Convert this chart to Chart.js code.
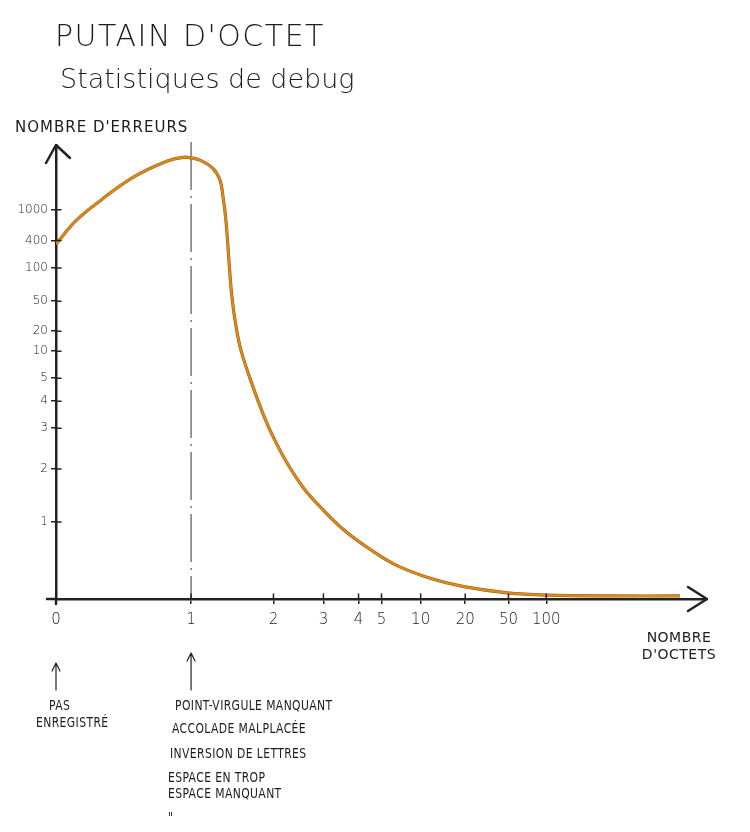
<!DOCTYPE html>
<html>
<head>
<meta charset="utf-8">
<script src="https://cdn.jsdelivr.net/npm/chart.js@4.4.1/dist/chart.umd.min.js"></script>
<style>
  body { margin: 0; background: #fff; }
  #wrap { position: relative; width: 750px; height: 832px; overflow: hidden; }
  canvas { position: absolute; left: 0; top: 0; }
  .t { position: absolute; white-space: nowrap; color: #1c1c1c; font-family: "DejaVu Sans", sans-serif; line-height: 1; }
  .s { font-size: 12px; font-stretch: condensed; letter-spacing: 0.4px; transform: scale(1, 1.15); transform-origin: left bottom; }
</style>
</head>
<body>
<div id="wrap">
  <canvas id="chart" width="750" height="832"></canvas>

  <div class="t" style="left:55px;top:21px;font-size:30px;font-weight:200;letter-spacing:1.5px">PUTAIN D'OCTET</div>
  <div class="t" style="left:60px;top:65px;font-size:27px;font-weight:200">Statistiques de debug</div>
  <div class="t" style="left:15px;top:120px;font-size:15px;letter-spacing:1px">NOMBRE D'ERREURS</div>
  <div class="t" style="left:626px;top:629px;width:106px;text-align:center;font-size:14px;line-height:17px;letter-spacing:0.5px">NOMBRE<br>D'OCTETS</div>

  <div class="t s" style="left:49px;top:700px">PAS</div>
  <div class="t s" style="left:36px;top:717px">ENREGISTRÉ</div>

  <div class="t s" style="left:175px;top:700px">POINT-VIRGULE MANQUANT</div>
  <div class="t s" style="left:172px;top:723px">ACCOLADE MALPLACÉE</div>
  <div class="t s" style="left:170px;top:748px">INVERSION DE LETTRES</div>
  <div class="t s" style="left:168px;top:772px">ESPACE EN TROP</div>
  <div class="t s" style="left:168px;top:788px">ESPACE MANQUANT</div>
  <div class="t s" style="left:168px;top:812px">"</div>
</div>

<script>
// axis graduations (hand-drawn, so not evenly spaced)
const xTickLabels = ['0', '1', '2', '3', '4', '5', '10', '20', '50', '100'];
const xTickAt = [0, 1, 1.61, 1.98, 2.24, 2.41, 2.7, 3.03, 3.35, 3.63];
const yTickLabels = ['1', '2', '3', '4', '5', '10', '20', '50', '100', '400', '1000'];
const yTickAt = [1, 1.69, 2.22, 2.57, 2.87, 3.22, 3.48, 3.87, 4.3, 4.66, 5.06];

// the curve, in the same graduations
const curveX = [0, 0.15, 0.33, 0.57, 0.82, 0.94, 1.01, 1.07, 1.16, 1.215, 1.237, 1.256, 1.27, 1.284, 1.3, 1.326, 1.37, 1.46, 1.53, 1.61, 1.71, 1.83, 1.96, 2.13, 2.33, 2.53, 2.77, 3.02, 3.34, 3.64, 4.1, 4.62];
const curveY = [4.61, 4.92, 5.18, 5.48, 5.69, 5.74, 5.73, 5.7, 5.6, 5.44, 5.22, 4.96, 4.66, 4.31, 3.97, 3.62, 3.23, 2.75, 2.42, 2.1, 1.77, 1.45, 1.19, 0.9, 0.64, 0.43, 0.27, 0.16, 0.08, 0.05, 0.04, 0.04];

const points = curveX.map((x, i) => ({ x: x, y: curveY[i] }));
const ink = '#222';

const sketch = {
  id: 'sketch',
  beforeDatasetsDraw(chart) {
    const { ctx, chartArea: a, scales: { x } } = chart;
    const px = x.getPixelForValue(1);
    ctx.save();
    ctx.strokeStyle = '#444';
    ctx.lineWidth = 1.1;
    ctx.setLineDash([48, 6, 2, 6]);
    ctx.beginPath();
    ctx.moveTo(px, a.top - 3);
    ctx.lineTo(px, a.bottom);
    ctx.stroke();
    ctx.restore();
  },
  afterDraw(chart) {
    const { ctx, chartArea: a, scales: { x, y } } = chart;
    ctx.save();
    ctx.strokeStyle = ink;
    ctx.lineCap = 'round';
    ctx.lineJoin = 'round';

    // arrow heads + little overshoots of the axes
    ctx.lineWidth = 2.5;
    ctx.beginPath();
    ctx.moveTo(a.left - 10, a.top + 18); ctx.lineTo(a.left, a.top); ctx.lineTo(a.left + 14, a.top + 13);
    ctx.moveTo(a.right - 19, a.bottom - 12); ctx.lineTo(a.right, a.bottom); ctx.lineTo(a.right - 19, a.bottom + 12);
    ctx.moveTo(a.left - 9, a.bottom); ctx.lineTo(a.left, a.bottom);
    ctx.moveTo(a.left, a.bottom); ctx.lineTo(a.left, a.bottom + 5);
    ctx.stroke();

    // tick marks crossing the axes
    ctx.lineWidth = 1.5;
    ctx.beginPath();
    yTickAt.forEach(v => { const p = y.getPixelForValue(v); ctx.moveTo(a.left, p); ctx.lineTo(a.left + 5, p); });
    xTickAt.forEach(v => { const p = x.getPixelForValue(v); ctx.moveTo(p, a.bottom); ctx.lineTo(p, a.bottom - 5); });
    ctx.stroke();

    // the two pointers under the axis
    ctx.lineWidth = 1.2;
    [[0, 663], [1, 653]].forEach(([v, tip]) => {
      const p = x.getPixelForValue(v);
      ctx.beginPath();
      ctx.moveTo(p, 690); ctx.lineTo(p, tip);
      ctx.moveTo(p - 4, tip + 8); ctx.lineTo(p, tip); ctx.lineTo(p + 4, tip + 8);
      ctx.stroke();
    });
    ctx.restore();
  }
};

new Chart(document.getElementById('chart'), {
  type: 'line',
  data: {
    datasets: [{
      data: points,
      borderColor: '#d98b1c',
      borderWidth: 2.2,
      pointRadius: 0,
      tension: 0.4
    }, {
      data: points,
      borderColor: '#9a5c14',
      borderWidth: 3.2,
      pointRadius: 0,
      tension: 0.4
    }]
  },
  options: {
    responsive: false,
    animation: false,
    layout: { padding: { top: 145, right: 43, left: 0, bottom: 0 } },
    plugins: { legend: { display: false }, tooltip: { enabled: false } },
    scales: {
      x: {
        type: 'linear',
        min: 0,
        max: 4.82,
        afterBuildTicks: s => { s.ticks = xTickAt.map(v => ({ value: v })); },
        afterFit: s => { s.height = 832 - 599; },
        ticks: {
          autoSkip: false,
          maxRotation: 0,
          padding: 7,
          color: ink,
          font: { family: 'DejaVu Sans', size: 15, weight: 200 },
          callback: (v, i) => xTickLabels[i]
        },
        grid: { drawOnChartArea: false, tickLength: 5, color: ink, lineWidth: 1.5 },
        border: { color: ink, width: 2.5 }
      },
      y: {
        type: 'linear',
        min: 0,
        max: 5.9,
        afterBuildTicks: s => { s.ticks = yTickAt.map(v => ({ value: v })); },
        afterFit: s => { s.width = 56; },
        ticks: {
          autoSkip: false,
          padding: 3,
          color: ink,
          font: { family: 'DejaVu Sans', size: 12, weight: 200 },
          callback: (v, i) => yTickLabels[i]
        },
        grid: { drawOnChartArea: false, tickLength: 5, color: ink, lineWidth: 1.5 },
        border: { color: ink, width: 2.5 }
      }
    }
  },
  plugins: [sketch]
});
</script>
</body>
</html>
